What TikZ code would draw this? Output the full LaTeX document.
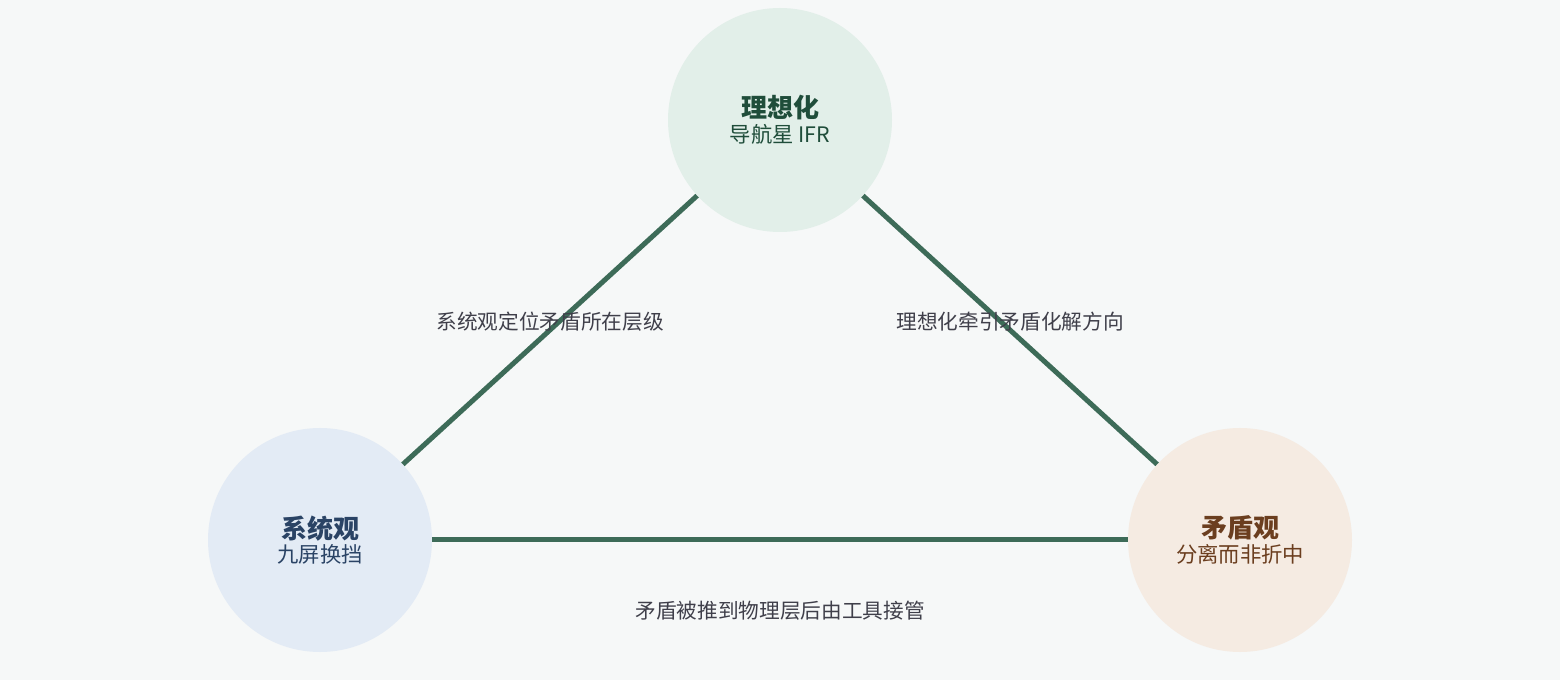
\documentclass[tikz,border=0pt]{standalone}
\usepackage{fontspec}
\setmainfont{Noto Sans CJK SC}
\definecolor{bgcol}{HTML}{F6F8F8}
\definecolor{edgecol}{HTML}{3D6B58}
\definecolor{labcol}{HTML}{3F3F4A}
\definecolor{idealfill}{HTML}{E2EFE9}
\definecolor{idealtext}{HTML}{1F4D3A}
\definecolor{sysfill}{HTML}{E3EBF5}
\definecolor{systext}{HTML}{2A4365}
\definecolor{confill}{HTML}{F5EBE2}
\definecolor{context}{HTML}{6B3E1F}
\tikzset{
  hub/.style={circle, minimum size=168pt, inner sep=0pt, align=center},
  link/.style={draw=edgecol, line width=3.75pt},
  note/.style={text=labcol, font=\fontsize{15.5}{18}\selectfont}
}
\newcommand{\hubtext}[2]{{\fontsize{19.5}{24}\selectfont\bfseries #1}\\[2pt]{\fontsize{16}{20}\selectfont #2}}
\begin{document}
\begin{tikzpicture}[x=0.75pt, y=-0.75pt]
\fill[bgcol] (0,0) rectangle (1560,680);
\useasboundingbox (0,0) rectangle (1560,680);
\node[hub, fill=idealfill, text=idealtext] (ideal) at (780,120) {\hubtext{理想化}{导航星 IFR}};
\node[hub, fill=sysfill, text=systext] (system) at (320,540) {\hubtext{系统观}{九屏换挡}};
\node[hub, fill=confill, text=context] (conflict) at (1240,540) {\hubtext{矛盾观}{分离而非折中}};
% edges between the three views
\draw[link] (ideal) -- (system);
\draw[link] (ideal) -- (conflict);
\draw[link] (system) -- (conflict);
\node[note] (lab1) at (550,322) {系统观定位矛盾所在层级};
\node[note] (lab2) at (1010,322) {理想化牵引矛盾化解方向};
\node[note] (lab3) at (780,611) {矛盾被推到物理层后由工具接管};
\end{tikzpicture}
\end{document}
